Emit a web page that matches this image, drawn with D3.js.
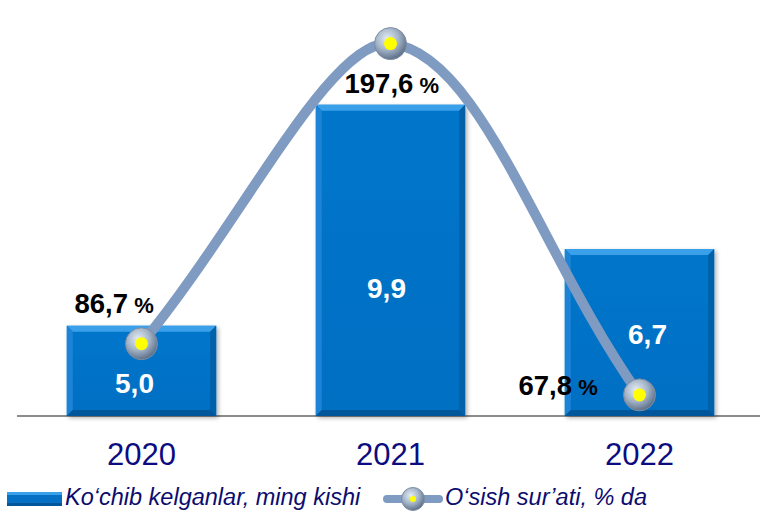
<!DOCTYPE html>
<html>
<head>
<meta charset="utf-8">
<script src="https://cdn.jsdelivr.net/npm/d3@7"></script>
<style>
  body { margin: 0; background: #fff; }
  svg { display: block; font-family: Arial, 'Liberation Sans', sans-serif; }
</style>
</head>
<body>
<div id="chart"></div>
<script>
const years = ['2020', '2021', '2022']
const arrivals = [5.0, 9.9, 6.7]          // Ko'chib kelganlar, ming kishi
const growth = [86.7, 197.6, 67.8]        // O'sish sur'ati, % da
const legendLabels = ['Ko\u2018chib kelganlar, ming kishi', 'O\u2018sish sur\u2019ati, % da']

const W = 760, H = 511
const baseY = 416, topY = 10

const svg = d3.select('#chart').append('svg')
    .attr('width', W)
    .attr('height', H)

const defs = svg.append('defs')

// bar face gradient
const barGrad = defs.append('linearGradient').attr('id', 'barFace')
    .attr('x1', 0).attr('y1', 0).attr('x2', 0).attr('y2', 1)
barGrad.append('stop').attr('offset', '0%').attr('stop-color', '#0676cb')
barGrad.append('stop').attr('offset', '100%').attr('stop-color', '#026fc3')

// marker gradient
const mk = defs.append('radialGradient').attr('id', 'marker')
    .attr('cx', '40%').attr('cy', '35%').attr('r', '65%')
mk.append('stop').attr('offset', '0%').attr('stop-color', '#e6edf5')
mk.append('stop').attr('offset', '55%').attr('stop-color', '#a3b4c8')
mk.append('stop').attr('offset', '100%').attr('stop-color', '#5f7189')

const shadow = defs.append('filter').attr('id', 'shadow')
    .attr('x', '-10%').attr('y', '-10%').attr('width', '130%').attr('height', '130%')
shadow.append('feDropShadow').attr('dx', 2).attr('dy', 2).attr('stdDeviation', 2)
    .attr('flood-color', '#000').attr('flood-opacity', 0.3)

// scales
const x = d3.scaleBand().domain(years).range([17, 764])
const y = d3.scaleLinear().domain([3, 12]).range([baseY, topY])
const y2 = d3.scaleLinear().domain([60, 210]).range([baseY, topY])
const barW = x.bandwidth() * 0.6
const cx = d => x(d) + x.bandwidth() / 2

// axis line
svg.append('line')
    .attr('x1', 17).attr('x2', W)
    .attr('y1', baseY).attr('y2', baseY)
    .attr('stroke', '#8c8c8c').attr('stroke-width', 2)

// bars with bevel
const bevel = 6
const barData = years.map((yr, i) => ({ yr, v: arrivals[i] }))
const bars = svg.selectAll('.bar')
    .data(barData)
    .enter().append('g')
    .attr('class', 'bar')
    .attr('filter', 'url(#shadow)')

bars.each(function (d) {
    const g = d3.select(this)
    const x0 = cx(d.yr) - barW / 2, x1 = x0 + barW
    const y0 = y(d.v), y1 = baseY
    g.append('rect')
        .attr('x', x0).attr('y', y0)
        .attr('width', barW).attr('height', y1 - y0)
        .attr('fill', 'url(#barFace)')
    const b = bevel
    const sides = [
        { p: [[x0, y0], [x1, y0], [x1 - b, y0 + b], [x0 + b, y0 + b]], c: '#3aa0ea' },
        { p: [[x0, y0], [x0 + b, y0 + b], [x0 + b, y1 - b], [x0, y1]], c: '#1a83d6' },
        { p: [[x1, y0], [x1, y1], [x1 - b, y1 - b], [x1 - b, y0 + b]], c: '#0560a8' },
        { p: [[x0, y1], [x0 + b, y1 - b], [x1 - b, y1 - b], [x1, y1]], c: '#04569a' }
    ]
    sides.forEach(s => g.append('polygon')
        .attr('points', s.p.map(q => q.join(',')).join(' '))
        .attr('fill', s.c))
})

// bar value labels (offsets from the bar's middle)
const barLabelOff = [[-7, 22], [-4, 38], [8, 11]]
svg.selectAll('.barLabel')
    .data(barData)
    .enter().append('text')
    .attr('class', 'barLabel')
    .attr('x', (d, i) => cx(d.yr) + barLabelOff[i][0])
    .attr('y', (d, i) => (y(d.v) + baseY) / 2 + barLabelOff[i][1])
    .attr('text-anchor', 'middle')
    .attr('fill', '#fff')
    .attr('font-size', 28)
    .attr('font-weight', 'bold')
    .text(d => d3.format('.1f')(d.v).replace('.', ','))

// growth line, Excel-like smoothing
const pts = years.map((yr, i) => ({ yr, v: growth[i] }))
function smoothPath(p) {
    const path = d3.path()
    const k = 0.4             // end tangent
    const fIn = 0.12, fOut = 0.18
    path.moveTo(p[0][0], p[0][1])
    for (let i = 0; i < p.length - 1; i++) {
        const a = p[i], b = p[i + 1]
        let c1, c2
        if (i === 0) c1 = [a[0] + (b[0] - a[0]) * k, a[1] + (b[1] - a[1]) * k]
        else {
            const pr = p[i - 1]
            c1 = [a[0] + (b[0] - pr[0]) * fOut, a[1] + (b[1] - pr[1]) * fOut]
        }
        if (i + 1 === p.length - 1) c2 = [b[0] - (b[0] - a[0]) * k, b[1] - (b[1] - a[1]) * k]
        else {
            const nx = p[i + 2]
            c2 = [b[0] - (nx[0] - a[0]) * fIn, b[1] - (nx[1] - a[1]) * fIn]
        }
        path.bezierCurveTo(c1[0], c1[1], c2[0], c2[1], b[0], b[1])
    }
    return path.toString()
}

svg.append('path')
    .attr('d', smoothPath(pts.map(d => [cx(d.yr), y2(d.v)])))
    .attr('fill', 'none')
    .attr('stroke', '#7f9bc2')
    .attr('stroke-width', 10)
    .attr('stroke-linecap', 'round')

const markers = svg.selectAll('.marker')
    .data(pts).enter().append('g')
    .attr('class', 'marker')
    .attr('transform', d => `translate(${cx(d.yr)},${y2(d.v)})`)
markers.append('circle').attr('r', 16)
    .attr('fill', 'url(#marker)').attr('stroke', '#7d8da3').attr('stroke-width', 1)
markers.append('circle').attr('r', 6.5).attr('fill', '#ffff00')

// growth labels
const pctPos = [[-67, -31], [-46, 49], [-121, 0]]
const pctLabels = svg.selectAll('.pct')
    .data(pts).enter().append('text')
    .attr('class', 'pct')
    .attr('x', (d, i) => cx(d.yr) + pctPos[i][0])
    .attr('y', (d, i) => y2(d.v) + pctPos[i][1])
    .attr('fill', '#000')
    .attr('font-weight', 'bold')
pctLabels.append('tspan').attr('font-size', 27.5)
    .text(d => d3.format('.1f')(d.v).replace('.', ','))
pctLabels.append('tspan').attr('font-size', 22).text(' %')

// x axis labels
const xAxis = svg.append('g')
    .attr('transform', `translate(0,${baseY})`)
    .call(d3.axisBottom(x).tickSize(0).tickPadding(0))
xAxis.select('.domain').remove()
xAxis.selectAll('text')
    .attr('font-size', 31)
    .attr('font-family', 'Arial, Liberation Sans, sans-serif')
    .attr('fill', '#0c0c80')
    .attr('y', 49)
    .attr('dy', 0)

// legend
const lg = svg.append('g').attr('transform', 'translate(0,499)')
const lb = lg.append('g')
lb.append('rect').attr('x', 7).attr('y', -7).attr('width', 55).attr('height', 14).attr('fill', '#0670c4')
lb.append('rect').attr('x', 7).attr('y', -7).attr('width', 55).attr('height', 3).attr('fill', '#3aa0ea')
lb.append('rect').attr('x', 7).attr('y', 4).attr('width', 55).attr('height', 3).attr('fill', '#04569a')
lg.append('text').attr('x', 65).attr('y', 6)
    .attr('font-size', 23.5).attr('font-style', 'italic').attr('fill', '#0c0c6e')
    .text(legendLabels[0])
lg.append('line').attr('x1', 387).attr('x2', 439).attr('y1', 0).attr('y2', 0)
    .attr('stroke', '#7f9bc2').attr('stroke-width', 8).attr('stroke-linecap', 'round')
lg.append('circle').attr('cx', 413).attr('cy', 0).attr('r', 11.5)
    .attr('fill', 'url(#marker)').attr('stroke', '#7d8da3')
lg.append('circle').attr('cx', 413).attr('cy', 0).attr('r', 3).attr('fill', '#ffff00')
lg.append('text').attr('x', 445).attr('y', 6)
    .attr('font-size', 23.5).attr('font-style', 'italic').attr('fill', '#0c0c6e')
    .text(legendLabels[1])
</script>
</body>
</html>
